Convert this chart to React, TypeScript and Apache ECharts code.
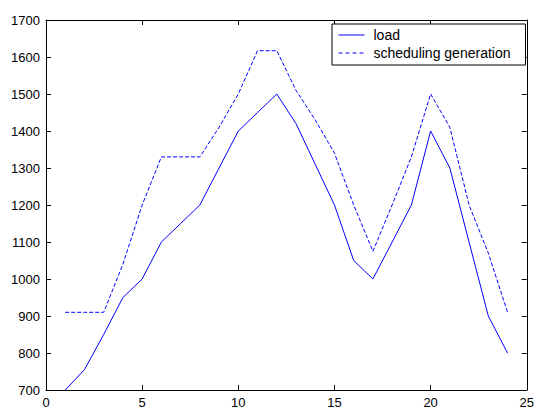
import React, { useEffect, useRef } from "react";
import * as echarts from "echarts";

const hours = [1, 2, 3, 4, 5, 6, 7, 8, 9, 10, 11, 12, 13, 14, 15, 16, 17, 18, 19, 20, 21, 22, 23, 24];
const load = [700, 755, 850, 950, 1000, 1100, 1150, 1200, 1300, 1400, 1450, 1500, 1420, 1310, 1200, 1050, 1000, 1100, 1200, 1400, 1300, 1100, 900, 800];
const generation = [910, 910, 910, 1040, 1200, 1330, 1330, 1330, 1410, 1500, 1617, 1617, 1510, 1430, 1340, 1200, 1075, 1200, 1330, 1500, 1410, 1200, 1070, 910];
const seriesNames = ["load", "scheduling generation"];

const FONT = "'Liberation Sans', Arial, sans-serif";

export default function App() {
  const ref = useRef<HTMLDivElement>(null);
  useEffect(() => {
    if (!ref.current) return;
    const chart = echarts.init(ref.current, undefined, { renderer: "svg" });
    const axisCommon = {
      axisLine: { show: true, onZero: false, lineStyle: { color: "#000", width: 1 } },
      axisTick: { show: true, inside: true, length: 5, lineStyle: { color: "#000" } },
      splitLine: { show: false },
    };
    const fmt = (v: number) => String(v);
    chart.setOption({
      animation: false,
      backgroundColor: "#fff",
      textStyle: { fontFamily: FONT },
      grid: { left: 46, right: 5, top: 20, bottom: 15, containLabel: false },
      legend: {
        orient: "vertical",
        left: 332,
        top: 24,
        data: [
          { name: seriesNames[0], lineStyle: { width: 1, type: "solid" } },
          { name: seriesNames[1], lineStyle: { width: 1, type: [4, 3] } },
        ],
        itemWidth: 26,
        itemHeight: 14,
        itemGap: 4,
        padding: [4, 15, 5, 6],
        borderColor: "#000",
        borderWidth: 1,
        backgroundColor: "#fff",
        itemStyle: { opacity: 0 },
        lineStyle: { width: 1 },
        textStyle: { fontFamily: FONT, fontSize: 14, color: "#000", padding: [0, 0, 0, 4] },
      },
      xAxis: [
        {
          type: "value",
          min: 0,
          max: 25,
          interval: 5,
          position: "bottom",
          ...axisCommon,
          axisLabel: { show: true, color: "#000", fontSize: 13, fontFamily: FONT, margin: 6, formatter: fmt },
        },
        {
          type: "value",
          min: 0,
          max: 25,
          interval: 5,
          position: "top",
          ...axisCommon,
          axisLabel: { show: false },
        },
      ],
      yAxis: [
        {
          type: "value",
          min: 700,
          max: 1700,
          interval: 100,
          position: "left",
          ...axisCommon,
          axisLabel: { show: true, color: "#000", fontSize: 13, fontFamily: FONT, margin: 6, formatter: fmt },
        },
        {
          type: "value",
          min: 700,
          max: 1700,
          interval: 100,
          position: "right",
          ...axisCommon,
          axisLabel: { show: false },
        },
      ],
      series: [
        {
          name: seriesNames[0],
          type: "line",
          symbol: "none",
          data: hours.map((h, i) => [h, load[i]]),
          lineStyle: { color: "#0000ff", width: 1, type: "solid" },
          itemStyle: { color: "#0000ff" },
        },
        {
          name: seriesNames[1],
          type: "line",
          symbol: "none",
          data: hours.map((h, i) => [h, generation[i]]),
          lineStyle: { color: "#0000ff", width: 1, type: [4, 2] },
          itemStyle: { color: "#0000ff" },
        },
      ],
    });
    return () => chart.dispose();
  }, []);
  return (
    <div
      ref={ref}
      style={{ position: "fixed", left: 0, top: 0, width: 537, height: 409 }}
    />
  );
}
